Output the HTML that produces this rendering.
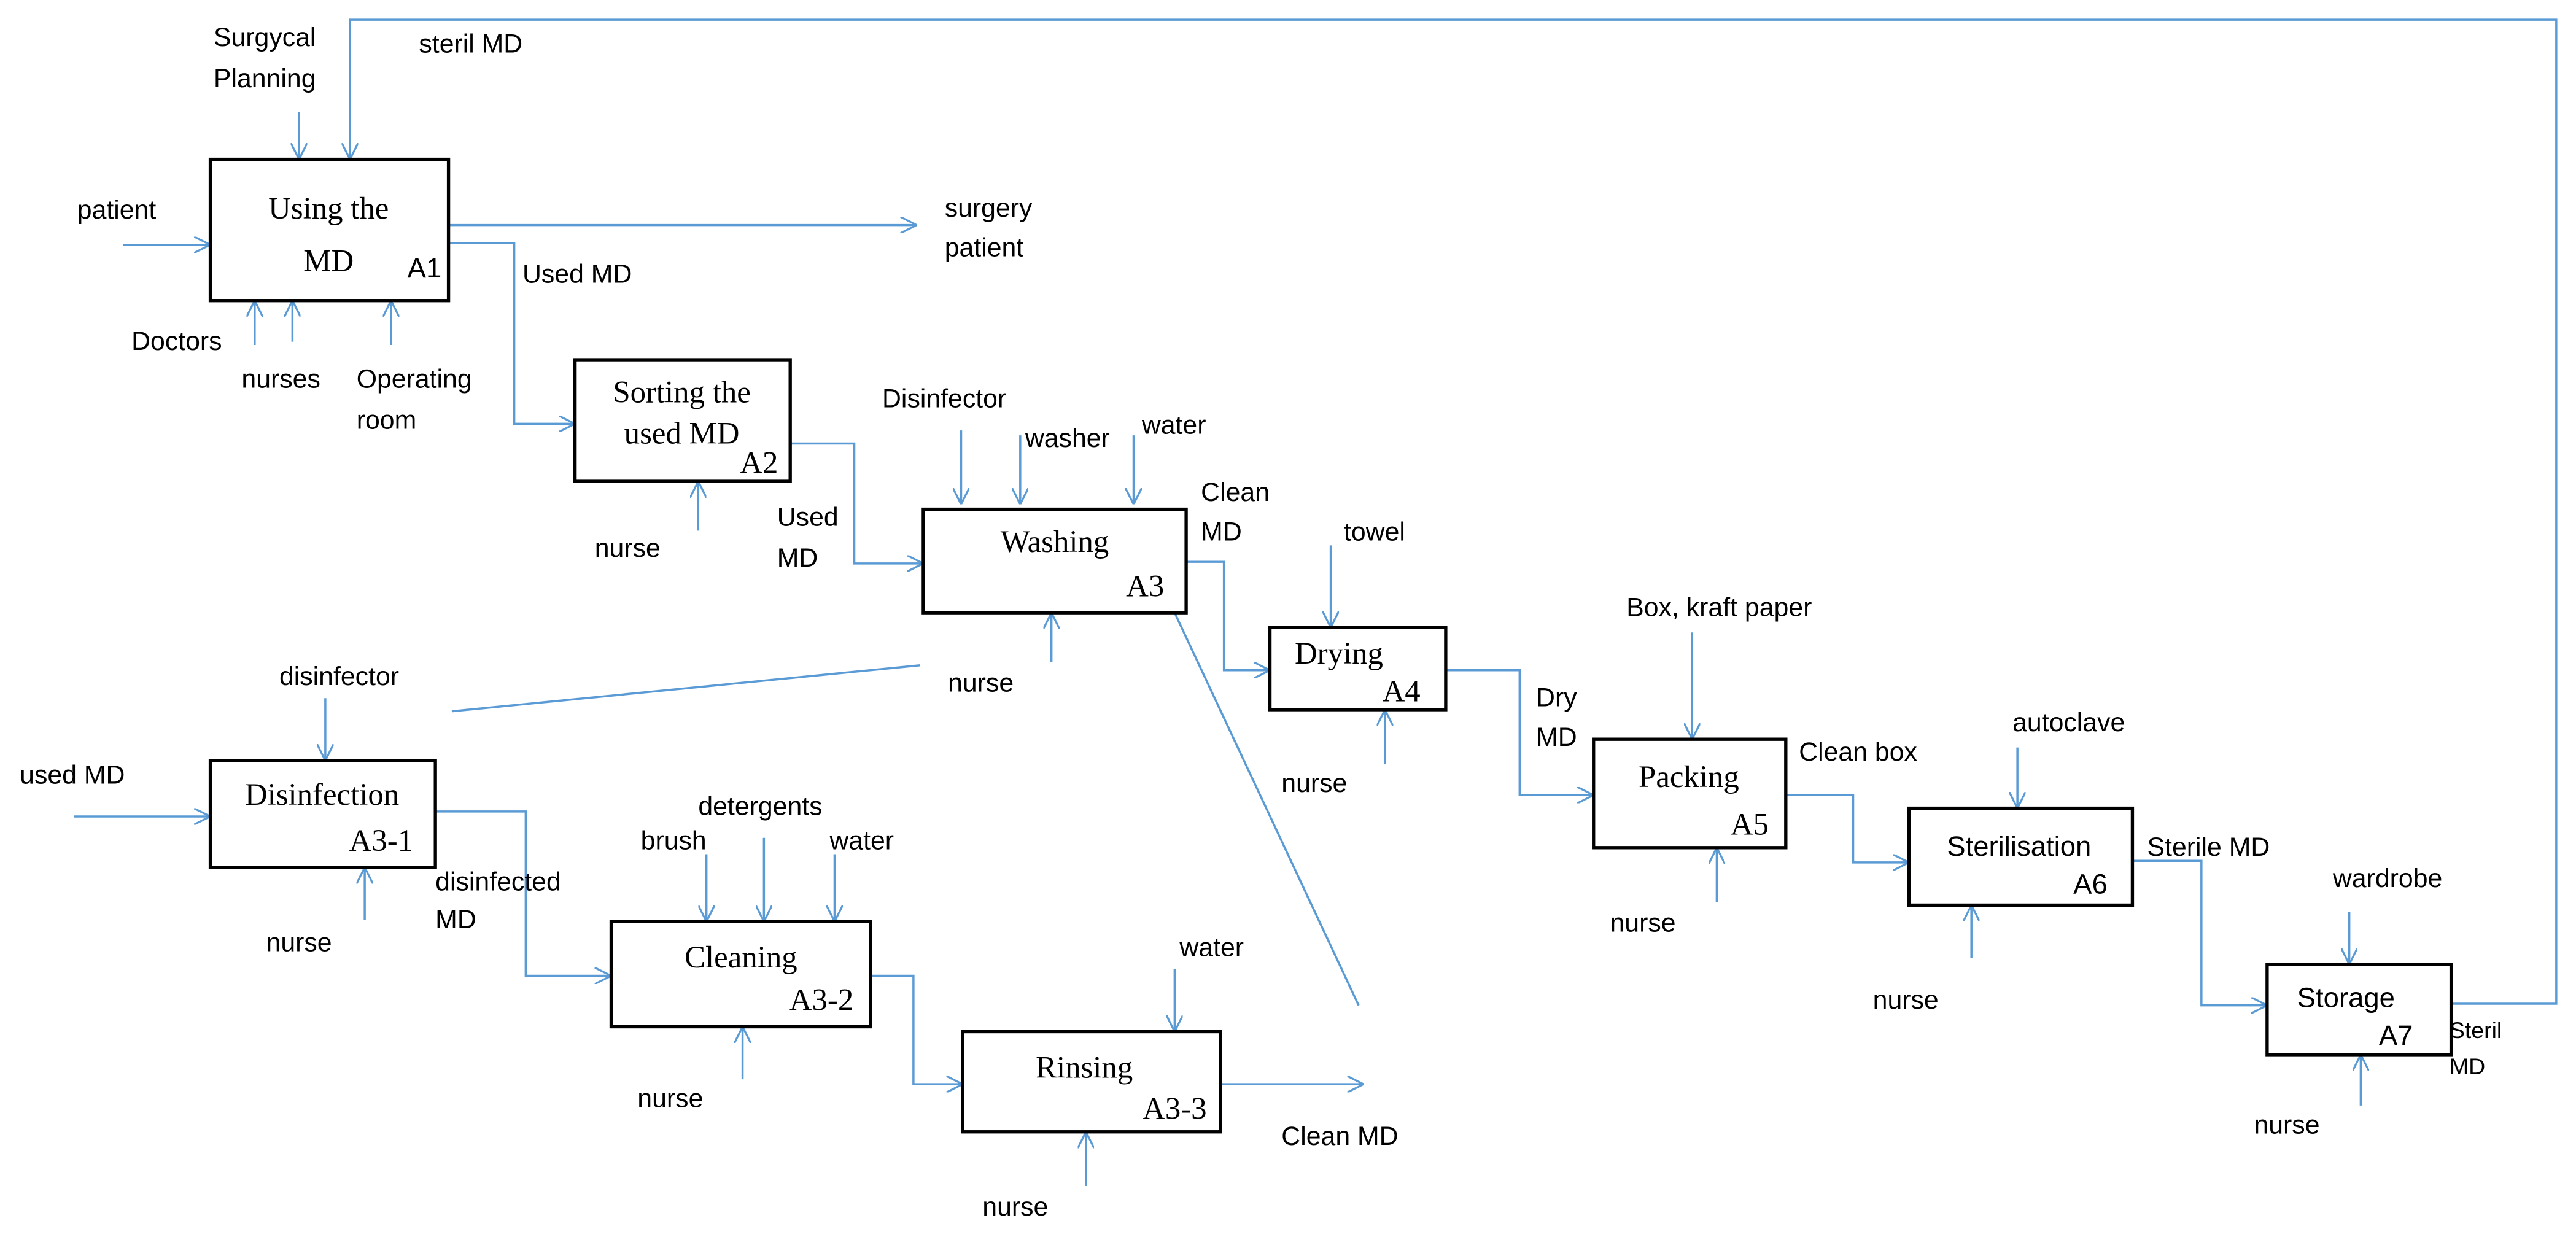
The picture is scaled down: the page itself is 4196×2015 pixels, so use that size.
<!DOCTYPE html>
<html><head><meta charset="utf-8"><style>html,body{margin:0;padding:0;background:#fff}svg{display:block}</style></head><body>
<svg width="4196" height="2015" viewBox="0 0 1568 753" xmlns="http://www.w3.org/2000/svg">
<defs><marker id="a" viewBox="0 0 10 10" refX="10" refY="5" markerWidth="10" markerHeight="10" markerUnits="userSpaceOnUse" orient="auto"><path d="M0,0 L10,5 L0,10" fill="none" stroke="#5b9bd5" stroke-width="1.2"/></marker></defs>
<g fill="none" stroke="#5b9bd5" stroke-width="1.3">
<path d="M1492,611 H1556 V12 H213 V97" marker-end="url(#a)"/>
<path d="M182,68 V97" marker-end="url(#a)"/>
<path d="M75,149 H128" marker-end="url(#a)"/>
<path d="M273,137 H558" marker-end="url(#a)"/>
<path d="M273,148 H313 V258 H350" marker-end="url(#a)"/>
<path d="M155,210 V183" marker-end="url(#a)"/>
<path d="M178,208 V183" marker-end="url(#a)"/>
<path d="M238,210 V183" marker-end="url(#a)"/>
<path d="M481,270 H520 V343 H562" marker-end="url(#a)"/>
<path d="M425,323 V293" marker-end="url(#a)"/>
<path d="M585,262 V307" marker-end="url(#a)"/>
<path d="M621,265 V307" marker-end="url(#a)"/>
<path d="M690,265 V307" marker-end="url(#a)"/>
<path d="M640,403 V373" marker-end="url(#a)"/>
<path d="M275,433 L560,405"/>
<path d="M722,342 H745 V408 H773" marker-end="url(#a)"/>
<path d="M715,373 L827,612"/>
<path d="M810,332 V382" marker-end="url(#a)"/>
<path d="M843,465 V432" marker-end="url(#a)"/>
<path d="M880,408 H925 V484 H970" marker-end="url(#a)"/>
<path d="M1030,385 V450" marker-end="url(#a)"/>
<path d="M1087,484 H1128 V525 H1162" marker-end="url(#a)"/>
<path d="M1045,549 V516" marker-end="url(#a)"/>
<path d="M1228,455 V492" marker-end="url(#a)"/>
<path d="M1298,524 H1340 V612 H1380" marker-end="url(#a)"/>
<path d="M1200,583 V551" marker-end="url(#a)"/>
<path d="M1430,555 V587" marker-end="url(#a)"/>
<path d="M1437,673 V642" marker-end="url(#a)"/>
<path d="M45,497 H128" marker-end="url(#a)"/>
<path d="M198,425 V463" marker-end="url(#a)"/>
<path d="M265,494 H320 V594 H372" marker-end="url(#a)"/>
<path d="M222,560 V528" marker-end="url(#a)"/>
<path d="M430,520 V561" marker-end="url(#a)"/>
<path d="M465,510 V561" marker-end="url(#a)"/>
<path d="M508,520 V561" marker-end="url(#a)"/>
<path d="M452,657 V625" marker-end="url(#a)"/>
<path d="M530,594 H556 V660 H586" marker-end="url(#a)"/>
<path d="M715,590 V628" marker-end="url(#a)"/>
<path d="M743,660 H830" marker-end="url(#a)"/>
<path d="M661,722 V689" marker-end="url(#a)"/>
</g>
<g fill="#fff" stroke="#000" stroke-width="2">
<rect x="128" y="97" width="145" height="86"/>
<rect x="350" y="219" width="131" height="74"/>
<rect x="562" y="310" width="160" height="63"/>
<rect x="773" y="382" width="107" height="50"/>
<rect x="970" y="450" width="117" height="66"/>
<rect x="1162" y="492" width="136" height="59"/>
<rect x="1380" y="587" width="112" height="55"/>
<rect x="128" y="463" width="137" height="65"/>
<rect x="372" y="561" width="158" height="64"/>
<rect x="586" y="628" width="157" height="61"/>
</g>
<g font-family="'Liberation Serif',serif" font-size="19" fill="#000" text-anchor="middle">
<text x="200" y="133">Using the</text><text x="200" y="165">MD</text>
<text x="415" y="245">Sorting the</text><text x="415" y="270">used MD</text><text x="462" y="288">A2</text>
<text x="642" y="336">Washing</text><text x="697" y="363">A3</text>
<text x="815" y="404">Drying</text><text x="853" y="427">A4</text>
<text x="1028" y="479">Packing</text><text x="1065" y="508">A5</text>
<text x="196" y="490">Disinfection</text><text x="232" y="518">A3-1</text>
<text x="451" y="589">Cleaning</text><text x="500" y="615">A3-2</text>
<text x="660" y="656">Rinsing</text><text x="715" y="681">A3-3</text>
</g>
<g font-family="'Liberation Sans',sans-serif" font-size="16" fill="#000">
<text x="248" y="169" font-size="17">A1</text>
<text x="1229" y="521" font-size="17" text-anchor="middle">Sterilisation</text><text x="1262" y="544" font-size="17">A6</text>
<text x="1428" y="613" font-size="17" text-anchor="middle">Storage</text><text x="1448" y="636" font-size="17">A7</text>
<text x="130" y="28">Surgycal</text><text x="130" y="53">Planning</text>
<text x="255" y="32">steril MD</text>
<text x="47" y="133">patient</text>
<text x="575" y="132">surgery</text><text x="575" y="156">patient</text>
<text x="318" y="172">Used MD</text>
<text x="80" y="213">Doctors</text>
<text x="147" y="236">nurses</text>
<text x="217" y="236">Operating</text><text x="217" y="261">room</text>
<text x="362" y="339">nurse</text>
<text x="473" y="320">Used</text><text x="473" y="345">MD</text>
<text x="537" y="248">Disinfector</text>
<text x="624" y="272">washer</text>
<text x="695" y="264">water</text>
<text x="577" y="421">nurse</text>
<text x="731" y="305">Clean</text><text x="731" y="329">MD</text>
<text x="818" y="329">towel</text>
<text x="780" y="482">nurse</text>
<text x="935" y="430">Dry</text><text x="935" y="454">MD</text>
<text x="990" y="375">Box, kraft paper</text>
<text x="1095" y="463">Clean box</text>
<text x="980" y="567">nurse</text>
<text x="1225" y="445">autoclave</text>
<text x="1307" y="521">Sterile MD</text>
<text x="1140" y="614">nurse</text>
<text x="1420" y="540">wardrobe</text>
<text x="1372" y="690">nurse</text>
<text x="1491" y="632" font-size="14">Steril</text><text x="1491" y="654" font-size="14">MD</text>
<text x="12" y="477">used  MD</text>
<text x="170" y="417">disinfector</text>
<text x="265" y="542">disinfected</text><text x="265" y="565">MD</text>
<text x="162" y="579">nurse</text>
<text x="390" y="517">brush</text>
<text x="425" y="496">detergents</text>
<text x="505" y="517">water</text>
<text x="388" y="674">nurse</text>
<text x="718" y="582">water</text>
<text x="780" y="697">Clean MD</text>
<text x="598" y="740">nurse</text>
</g>
</svg>
</body></html>
